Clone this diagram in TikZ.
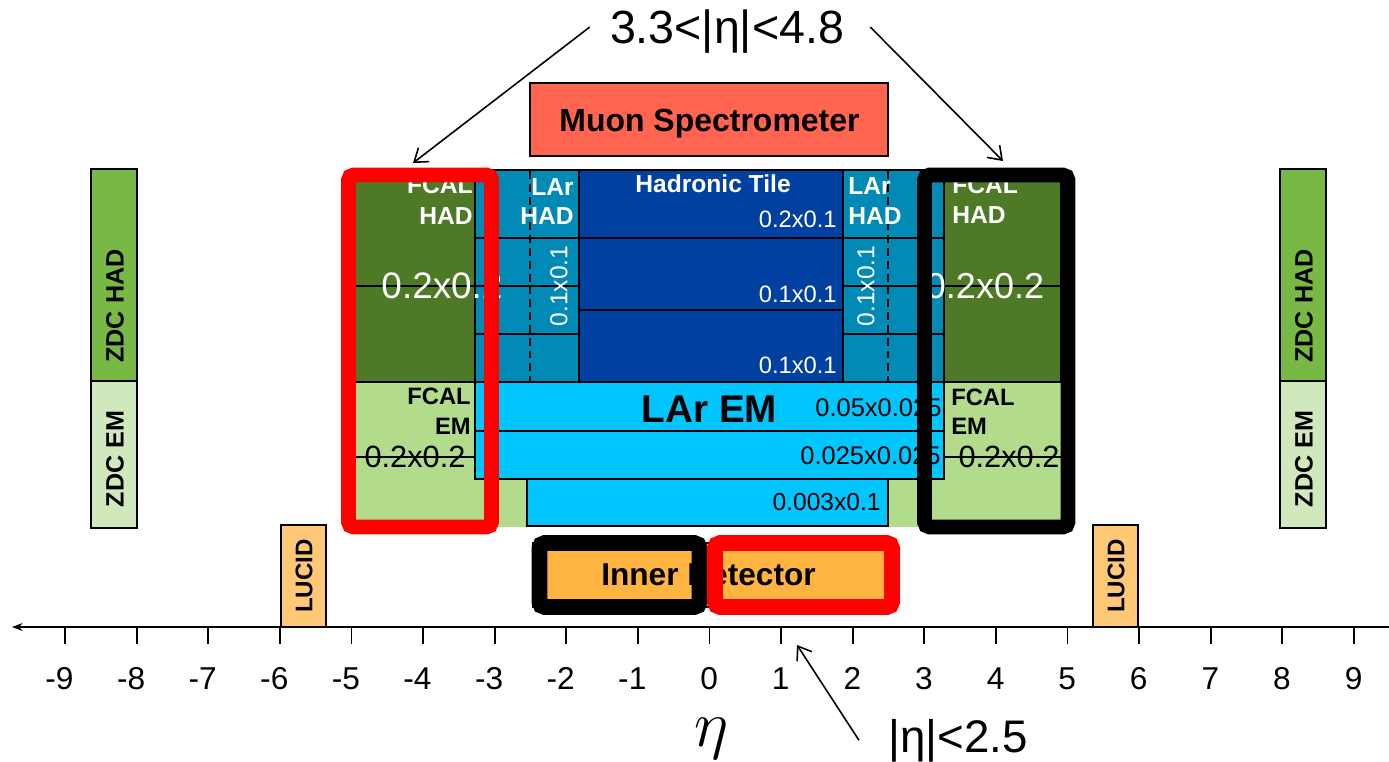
\documentclass[tikz,border=0pt]{standalone}
\usepackage{fontspec}
\setmainfont{Liberation Sans}
\usetikzlibrary{arrows.meta,calc}
\newcommand\myfs[1]{\fontsize{#1}{#1}\selectfont}
\definecolor{fcalhad}{HTML}{4E7A27}
\definecolor{fcalem}{HTML}{B2DB8C}
\definecolor{larhad}{HTML}{008AB5}
\definecolor{tilecol}{HTML}{0040A0}
\definecolor{larem}{HTML}{00C5FF}
\definecolor{muoncol}{HTML}{FF6551}
\definecolor{innercol}{HTML}{FFB340}
\definecolor{lucidcol}{HTML}{FFC877}
\definecolor{zdchad}{HTML}{77B944}
\definecolor{zdcem}{HTML}{D1E8BD}
\definecolor{frred}{HTML}{FF0000}
\begin{document}
\begin{tikzpicture}[x=0.02cm,y=-0.02cm,
  cell/.style={draw=black,line width=1.1pt},
  wlab/.style={text=white,inner sep=0pt},
  blab/.style={text=black,inner sep=0pt},
  boldsm/.style={font=\myfs{14}\bfseries},
  numsm/.style={font=\myfs{13.5}},
  rframe/.style={draw=frred,line width=8.5pt,rounded corners=3pt},
  kframe/.style={draw=black,line width=8.5pt,rounded corners=3pt},
  rframeid/.style={draw=frred,line width=9pt,rounded corners=3pt},
  kframeid/.style={draw=black,line width=9pt,rounded corners=3pt},
  pointer/.style={draw=black,line width=0.9pt,-{Straight Barb[length=7pt,width=10pt]}},
  dashline/.style={draw=black,line width=1.1pt,dash pattern=on 4.5pt off 2.8pt},
]
\useasboundingbox (0,0) rectangle (1389,761);

% ---- ZDC ----
\draw[cell,fill=zdchad] (91,169) rectangle (137,381);
\draw[cell,fill=zdcem] (91,381) rectangle (137,528);
\draw[cell,fill=zdchad] (1280,169) rectangle (1326,381);
\draw[cell,fill=zdcem] (1280,381) rectangle (1326,528);
\node[blab,font=\myfs{14.3}\bfseries,rotate=90] (zdchL) at (115,306) {ZDC HAD};
\node[blab,font=\myfs{14.3}\bfseries,rotate=90] (zdceL) at (115,459) {ZDC EM};
\node[blab,font=\myfs{14.3}\bfseries,rotate=90] (zdchR) at (1304,306) {ZDC HAD};
\node[blab,font=\myfs{14.3}\bfseries,rotate=90] (zdceR) at (1304,459) {ZDC EM};

% ---- LUCID ----
\draw[cell,fill=lucidcol] (281,525) rectangle (326,627);
\draw[cell,fill=lucidcol] (1093,525) rectangle (1138,627);
\node[blab,font=\myfs{13.7}\bfseries,rotate=90] (lucidL) at (304,576) {LUCID};
\node[blab,font=\myfs{13.7}\bfseries,rotate=90] (lucidR) at (1116,576) {LUCID};

% ---- Muon spectrometer ----
\draw[cell,fill=muoncol] (530,83) rectangle (888,156);
\node[blab,font=\myfs{18.2}\bfseries] (muon) at (709.5,123.5) {Muon Spectrometer};

% ---- FCAL EM (light green) ----
\fill[fcalem] (355,382) rectangle (528,527);
\fill[fcalem] (888,382) rectangle (1061,527);

% ---- FCAL HAD ----
\draw[cell,fill=fcalhad] (355,170) rectangle (475,382);
\draw[cell,fill=fcalhad] (944,170) rectangle (1061,382);
\draw[cell] (355,286) -- (475,286);
\draw[cell] (944,286) -- (1061,286);
\draw[cell] (355,457) -- (475,457);
\draw[cell] (944,457) -- (1061,457);

% ---- LAr HAD ----
\foreach \ya/\yb in {170/238,238/286,286/334,334/382}{
  \draw[cell,fill=larhad] (475,\ya) rectangle (579,\yb);
  \draw[cell,fill=larhad] (843,\ya) rectangle (944,\yb);
}
\draw[dashline] (530,171) -- (530,381);
\draw[dashline] (888,171) -- (888,381);

% ---- Hadronic Tile ----
\draw[cell,fill=tilecol] (579,170) rectangle (843,238);
\draw[cell,fill=tilecol] (579,238) rectangle (843,310);
\draw[cell,fill=tilecol] (579,310) rectangle (843,382);

% ---- LAr EM ----
\draw[cell,fill=larem] (475,382) rectangle (944,431);
\draw[cell,fill=larem] (475,431) rectangle (944,479);
\draw[cell,fill=larem] (527,479) rectangle (888,526);

% ---- labels in calorimeters ----
\node[wlab,boldsm,anchor=east] (fhLa) at (473,185) {FCAL};
\node[wlab,boldsm,anchor=east] (fhLb) at (473,216) {HAD};
\node[wlab,font=\myfs{21}] (fhLc) at (442,286) {0.2x0.2};
\node[wlab,boldsm,anchor=east] (lhLa) at (574,187) {LAr};
\node[wlab,boldsm,anchor=east] (lhLb) at (574,216) {HAD};
\node[wlab,font=\myfs{14},rotate=90] (lhLc) at (559,286) {0.1x0.1};
\node[wlab,boldsm] (tileA) at (713,184) {Hadronic Tile};
\node[wlab,numsm,anchor=east] (tileB) at (837,219) {0.2x0.1};
\node[wlab,numsm,anchor=east] (tileC) at (837,294) {0.1x0.1};
\node[wlab,numsm,anchor=east] (tileD) at (837,365) {0.1x0.1};
\node[wlab,boldsm,anchor=west] (lhRa) at (848,186) {LAr};
\node[wlab,boldsm,anchor=west] (lhRb) at (848,216) {HAD};
\node[wlab,font=\myfs{14},rotate=90] (lhRc) at (866,286) {0.1x0.1};
\node[wlab,boldsm,anchor=west] (fhRa) at (952,185) {FCAL};
\node[wlab,boldsm,anchor=west] (fhRb) at (952,215) {HAD};
\node[wlab,font=\myfs{20.5}] (fhRc) at (985,286) {0.2x0.2};

\node[blab,font=\myfs{13.5}\bfseries,anchor=east] (feLa) at (471,396) {FCAL};
\node[blab,font=\myfs{13.5}\bfseries,anchor=east] (feLb) at (471,426) {EM};
\node[blab,font=\myfs{17.5}] (feLc) at (415,457) {0.2x0.2};
\node[blab,font=\myfs{13.5}\bfseries,anchor=west] (feRa) at (951,397) {FCAL};
\node[blab,font=\myfs{13.5}\bfseries,anchor=west] (feRb) at (951,426) {EM};
\node[blab,font=\myfs{17.5}] (feRc) at (1009,457) {0.2x0.2};

\node[blab,font=\myfs{22}\bfseries] (larem) at (709.5,409) {LAr EM};
\node[blab,font=\myfs{14.5},anchor=west] (emA) at (815,408) {0.05x0.025};
\node[blab,font=\myfs{14.5},anchor=west] (emB) at (800,456) {0.025x0.025};
\node[blab,font=\myfs{14},anchor=east] (emC) at (881,502) {0.003x0.1};

% ---- frames on FCAL ----
\draw[rframe] (348.5,175) rectangle (491.5,527);
\draw[kframe] (924.5,175) rectangle (1068,527);

% ---- Inner detector ----
\draw[draw=black,line width=0.6pt,fill=innercol] (533,543) rectangle (890,607);
\node[blab,font=\myfs{18}\bfseries] (inner) at (708.5,575) {Inner Detector};
\draw[kframeid] (539.5,543) rectangle (699.5,607);
\draw[rframeid] (715,543) rectangle (892,607);

% ---- axis ----
\coordinate (axR) at (1389,627);
\coordinate (axL) at (12,627);
\draw[line width=1pt,-{Stealth[length=6pt,width=4.5pt]}] (axR) -- (axL);
\foreach \k in {-9,...,9}{
  \draw[line width=1pt] ({709.5+71.6*\k},627) -- ++(0,17);
  \node[blab,font=\myfs{18},anchor=base east] (tick\k) at ({709.5+71.6*\k+8.8},689) {\k};
}
\node[inner sep=0pt,font=\myfs{24},scale=1.5] (etaaxis) at (712,739) {$\eta$};

% ---- range labels and pointers ----
\node[blab,font=\myfs{26.5},anchor=base] (rangeF) at (727,43) {3.3<|η|<4.8};
\coordinate (fcalL) at (413,163);
\coordinate (fcalR) at (1003,161);
\draw[pointer] ($(rangeF.west)+(-20,-4)$) -- (fcalL);
\draw[pointer] ($(rangeF.east)+(26,-4)$) -- (fcalR);
\node[blab,font=\myfs{26},anchor=base] (rangeI) at (958,752) {|η|<2.5};
\coordinate (idT) at (797,645);
\draw[pointer] ($(rangeI.west)+(-29,0)$) -- (idT);
\end{tikzpicture}
\end{document}
